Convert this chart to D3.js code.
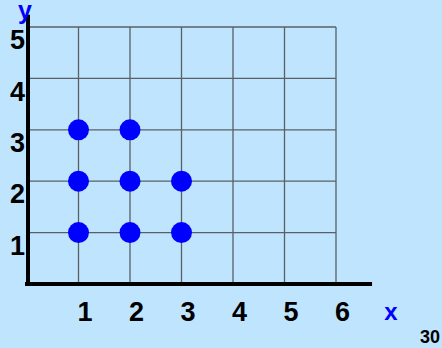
<!DOCTYPE html>
<html>
<head>
<meta charset="utf-8">
<script src="https://cdn.jsdelivr.net/npm/d3@7"></script>
<style>
  html, body { margin: 0; padding: 0; background: #bee5fd; }
  svg { display: block; font-family: "Liberation Sans", Arial, sans-serif; }
</style>
</head>
<body>
<div id="chart"></div>
<script>
// lattice points plotted on the grid
const pointsX = [1, 2, 3, 1, 2, 3, 1, 2];
const pointsY = [1, 1, 1, 2, 2, 2, 3, 3];
const xTicks = [1, 2, 3, 4, 5, 6];
const yTicks = [1, 2, 3, 4, 5];
const pageNumber = "30";

(() => {
  const width = 442, height = 348;

  const svg = d3.select("#chart").append("svg")
    .attr("width", width).attr("height", height)
    .attr("viewBox", [0, 0, width, height]);

  svg.append("rect").attr("width", width).attr("height", height).attr("fill", "#bee5fd");

  const x = d3.scaleLinear().domain([0, 6]).range([27, 336]);
  const y = d3.scaleLinear().domain([0, 5]).range([284, 27]);

  // grid
  const grid = svg.append("g").attr("stroke", "#5a5f66").attr("stroke-width", 1.3);
  grid.selectAll("line.v").data(xTicks).join("line")
    .attr("class", "v")
    .attr("x1", d => x(d)).attr("x2", d => x(d))
    .attr("y1", y(0)).attr("y2", y(5));
  grid.selectAll("line.h").data(yTicks).join("line")
    .attr("class", "h")
    .attr("x1", x(0)).attr("x2", x(6))
    .attr("y1", d => y(d)).attr("y2", d => y(d));

  // thick axes
  svg.append("line")
    .attr("x1", x(0) - 2).attr("x2", x(6.7))
    .attr("y1", y(0)).attr("y2", y(0))
    .attr("stroke", "#000").attr("stroke-width", 4);
  svg.append("line")
    .attr("x1", x(0) + 1).attr("x2", x(0) + 1)
    .attr("y1", y(0) + 2).attr("y2", y(5.24))
    .attr("stroke", "#000").attr("stroke-width", 4);

  // tick labels
  const fmt = d3.format("d");
  const xAxis = svg.append("g")
    .attr("transform", `translate(6,${y(0)})`)
    .call(d3.axisBottom(x).tickValues(xTicks).tickFormat(fmt).tickSize(0).tickPadding(18));
  xAxis.select(".domain").remove();
  xAxis.selectAll("text")
    .attr("fill", "#000").attr("font-size", 27).attr("font-weight", "bold");

  const yAxis = svg.append("g")
    .attr("transform", `translate(${x(0)},13)`)
    .call(d3.axisLeft(y).tickValues(yTicks).tickFormat(fmt).tickSize(0).tickPadding(2));
  yAxis.select(".domain").remove();
  yAxis.selectAll("text")
    .attr("fill", "#000").attr("font-size", 27).attr("font-weight", "bold");

  // axis names
  svg.append("text")
    .attr("x", 25).attr("y", 19)
    .attr("text-anchor", "middle")
    .attr("fill", "#0000ff")
    .attr("font-size", 25).attr("font-weight", "bold")
    .text("y");
  svg.append("text")
    .attr("x", 391).attr("y", 320)
    .attr("text-anchor", "middle")
    .attr("fill", "#0000ff")
    .attr("font-size", 24).attr("font-weight", "bold")
    .text("x");

  svg.append("text")
    .attr("x", 440).attr("y", 343)
    .attr("text-anchor", "end")
    .attr("fill", "#000")
    .attr("font-size", 18).attr("font-weight", "bold")
    .text(pageNumber);

  // points
  svg.selectAll("circle.pt")
    .data(pointsX.map((px, i) => ({ px, py: pointsY[i] })))
    .join("circle")
    .attr("class", "pt")
    .attr("cx", d => x(d.px))
    .attr("cy", d => y(d.py))
    .attr("r", 10.5)
    .attr("fill", "#0000ff");
})();
</script>
</body>
</html>
